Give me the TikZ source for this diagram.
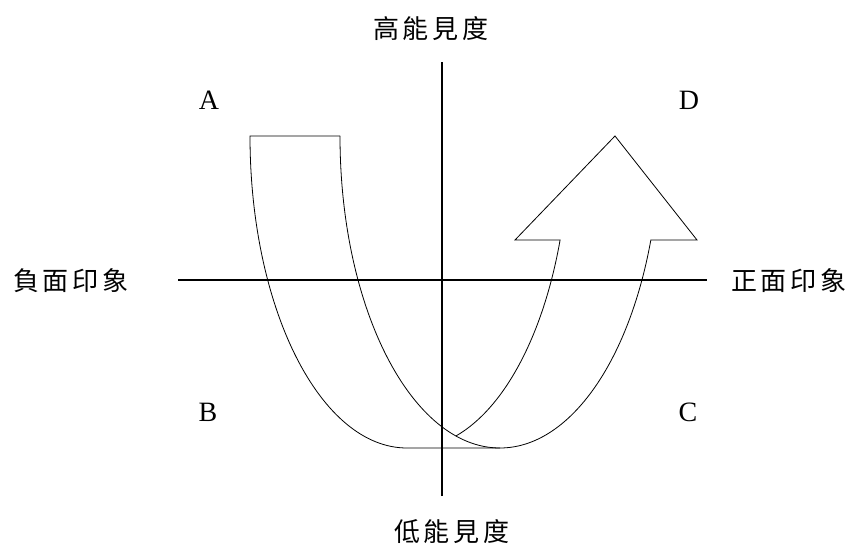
\documentclass[tikz,border=0pt]{standalone}
\usepackage{fontspec}
\setmainfont{Liberation Serif}
\newfontfamily\cjkfont{Noto Sans CJK TC}

\begin{document}
\begin{tikzpicture}[
        x=1pt, y=1pt,
        axis/.style={line width=1.3pt},
        band/.style={line width=0.8pt},
        quadrant/.style={
            font=\fontsize{28}{32}\selectfont,
            inner sep=0pt
        },
        axislabel/.style={
            font=\cjkfont\fontsize{26}{30}\selectfont,
            inner sep=0pt
        }
    ]
        \useasboundingbox (0,0) rectangle (853,546);

        % axes
        \coordinate (xmin) at (178,266);
        \coordinate (xmax) at (707,266);
        \coordinate (ymin) at (442,50);
        \coordinate (ymax) at (442,484);
        \draw[axis] (xmin) -- (xmax);
        \draw[axis] (ymin) -- (ymax);

        \node[axislabel] (high) at (431,517) {高\kern4pt 能\kern4pt 見\kern4pt 度};
        \node[axislabel] (low) at (452,14) {低\kern4pt 能\kern4pt 見\kern4pt 度};
        \node[axislabel] (negative) at (71,265) {負\kern4pt 面\kern4pt 印\kern4pt 象};
        \node[axislabel] (positive) at (789,265) {正\kern4pt 面\kern4pt 印\kern4pt 象};

        \node[quadrant] (qa) at (209,446) {A};
        \node[quadrant] (qb) at (208,134) {B};
        \node[quadrant] (qc) at (688,134) {C};
        \node[quadrant] (qd) at (689,446) {D};

        % U-turn arrow
        \draw[band] (340,410) -- (250,410)
            arc[start angle=180, end angle=270, x radius=157pt, y radius=312pt]
            -- (500,98)
            arc[start angle=270, end angle=340.53, x radius=160pt, y radius=312pt]
            -- (697,306) -- (615,410) -- (515,306) -- (560.1,306)
            arc[start angle=340.53, end angle=285.98, x radius=156pt, y radius=312pt];
        \draw[band] (340,410)
            arc[start angle=180, end angle=270, x radius=160pt, y radius=312pt];
    \end{tikzpicture}
\end{document}
